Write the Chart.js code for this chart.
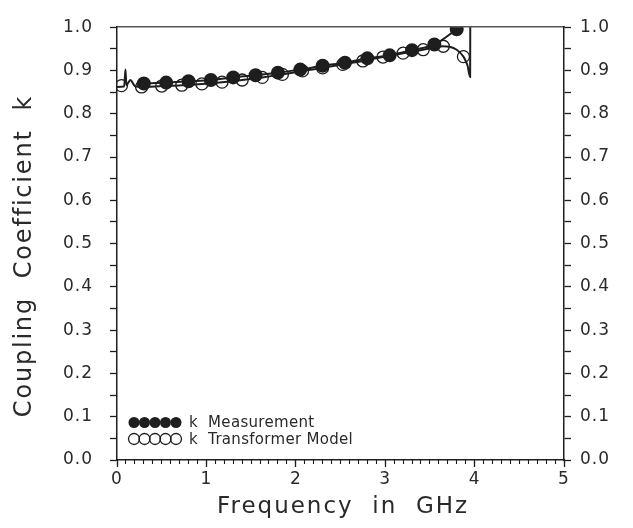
<!DOCTYPE html>
<html>
<head>
<meta charset="utf-8">
<script src="https://cdn.jsdelivr.net/npm/chart.js@4.4.1/dist/chart.umd.min.js"></script>
<style>
html,body{margin:0;padding:0;background:#fff;}
#wrap{width:633px;height:528px;position:relative;}
</style>
</head>
<body>
<div id="wrap"><canvas id="c" width="633" height="528"></canvas></div>
<script>
// ---- data ----
const measFreq = [0.3, 0.55, 0.8, 1.05, 1.3, 1.55, 1.8, 2.05, 2.3, 2.55, 2.8, 3.05, 3.3, 3.55, 3.8];
const measK    = [0.870, 0.872, 0.875, 0.878, 0.884, 0.889, 0.895, 0.902, 0.911, 0.918, 0.928, 0.935, 0.947, 0.960, 0.995];

const modelFreq = [0.05, 0.275, 0.5, 0.725, 0.95, 1.175, 1.4, 1.625, 1.85, 2.075, 2.3, 2.525, 2.75, 2.975, 3.2, 3.425, 3.65, 3.875];
const modelK    = [0.865, 0.862, 0.864, 0.866, 0.869, 0.873, 0.878, 0.884, 0.891, 0.899, 0.906, 0.914, 0.922, 0.931, 0.940, 0.948, 0.956, 0.932];

const curveFreq = [0.0, 0.08, 0.095, 0.105, 0.15, 0.2, 0.275, 0.5, 0.725, 0.95, 1.175, 1.4, 1.625, 1.85, 2.075, 2.3, 2.525, 2.75, 2.975, 3.2, 3.425, 3.55, 3.65, 3.72, 3.8, 3.875, 3.92, 3.95, 3.952];
const curveK    = [0.862, 0.863, 0.902, 0.866, 0.878, 0.864, 0.862, 0.864, 0.866, 0.869, 0.873, 0.878, 0.884, 0.891, 0.899, 0.906, 0.914, 0.922, 0.931, 0.940, 0.948, 0.953, 0.956, 0.955, 0.948, 0.932, 0.912, 0.885, 1.06];

const xTicks = [0, 1, 2, 3, 4, 5];
const yTickLabels = ['0.0','0.1','0.2','0.3','0.4','0.5','0.6','0.7','0.8','0.9','1.0'];

const xTitle = 'Frequency  in  GHz';
const yTitle = 'Coupling  Coefficient  k';
const legendLabels = ['k  Measurement', 'k  Transformer Model'];

// ---- chart ----
const INK = '#1e1e1e';
const TXT = '#2a2a2a';
const tickFont = {family: "'DejaVu Sans', sans-serif", size: 17, weight: 'normal'};

function pts(xs, ys){ return xs.map((x,i)=>({x:x, y:ys[i]})); }

function yLabel(v){
  const r = Math.round(v*100);
  if (r % 10 !== 0) return '';
  return yTickLabels[r/10];
}

const spacingPlugin = {
  id: 'spacing',
  beforeDraw(chart){ chart.ctx.letterSpacing = '1px'; }
};

const decorPlugin = {
  id: 'decor',
  afterDraw(chart){
    const ctx = chart.ctx, ca = chart.chartArea;
    ctx.save();
    ctx.fillStyle = TXT;
    // axis titles
    ctx.font = "normal 23px 'DejaVu Sans', sans-serif";
    ctx.letterSpacing = '2px';
    ctx.textAlign = 'center';
    ctx.textBaseline = 'middle';
    ctx.fillText(xTitle, 343, 507);
    ctx.save();
    ctx.translate(25, 257);
    ctx.rotate(-Math.PI/2);
    ctx.font = "normal 24px 'DejaVu Sans', sans-serif";
    ctx.letterSpacing = '1.8px';
    ctx.fillText(yTitle, 1, 0);
    ctx.restore();
    // legend
    const rows = [ca.bottom - 37.5, ca.bottom - 21];
    for (let r = 0; r < 2; r++) {
      const y = rows[r];
      for (let i = 0; i < 5; i++) {
        const cx = ca.left + 17 + i*10.5;
        ctx.beginPath();
        ctx.arc(cx, y, 5.5, 0, Math.PI*2);
        if (r === 0) { ctx.fillStyle = INK; ctx.fill(); }
        else { ctx.strokeStyle = INK; ctx.lineWidth = 1.3; ctx.stroke(); }
      }
      ctx.fillStyle = TXT;
      ctx.font = "normal 15px 'DejaVu Sans', sans-serif";
      ctx.letterSpacing = '0.3px';
      ctx.textAlign = 'left';
      ctx.fillText(legendLabels[r], ca.left + 72, y + 1);
    }
    ctx.restore();
  }
};

const commonY = {
  type: 'linear', min: 0, max: 1,
  ticks: {stepSize: 0.05, autoSkip: false, maxTicksLimit: 100, callback: yLabel, font: tickFont, color: TXT},
  grid: {drawOnChartArea: false, tickLength: 7, tickColor: INK, tickWidth: 1.3},
  border: {color: INK, width: 1.5}
};

new Chart(document.getElementById('c'), {
  type: 'scatter',
  data: {
    datasets: [
      {label: 'k Transformer Model curve', data: pts(curveFreq, curveK), showLine: true, borderColor: INK, borderWidth: 2, pointRadius: 0, tension: 0.25, cubicInterpolationMode: 'monotone', xAxisID: 'x', yAxisID: 'y'},
      {label: 'k Transformer Model', data: pts(modelFreq, modelK), showLine: false, pointRadius: 6, pointBorderWidth: 1.3, pointBackgroundColor: 'rgba(255,255,255,0)', pointBorderColor: INK, xAxisID: 'x', yAxisID: 'y'},
      {label: 'k Measurement', data: pts(measFreq, measK), showLine: true, borderColor: INK, borderWidth: 2, tension: 0.2, cubicInterpolationMode: 'monotone', pointRadius: 6, pointBackgroundColor: INK, pointBorderColor: INK, xAxisID: 'x', yAxisID: 'y'}
    ]
  },
  options: {
    responsive: false,
    animation: false,
    events: [],
    layout: {padding: {top: 11, left: 0, right: 0, bottom: 0}},
    plugins: {legend: {display: false}, tooltip: {enabled: false}},
    scales: {
      x: {
        type: 'linear', position: 'bottom', min: 0, max: 5, weight: 1,
        ticks: {stepSize: 1, autoSkip: false, font: tickFont, color: TXT, padding: 2, maxRotation: 0},
        afterBuildTicks: s => { s.ticks = xTicks.map(v => ({value: v})); },
        grid: {drawOnChartArea: false, tickLength: 7, tickColor: INK, tickWidth: 1.3},
        border: {color: INK, width: 1.5},
        afterFit: s => { s.height = 68; }
      },
      xMinor: {
        type: 'linear', position: 'bottom', min: 0, max: 5, weight: 0,
        ticks: {stepSize: 0.1, autoSkip: false, maxTicksLimit: 100, callback: () => '', padding: 0},
        grid: {drawOnChartArea: false, tickLength: 4, tickColor: INK, tickWidth: 1.1},
        border: {display: false},
        afterFit: s => { s.height = 0; }
      },
      xTop: {
        type: 'linear', position: 'top', min: 0, max: 5,
        ticks: {display: false},
        grid: {display: false, drawTicks: false},
        border: {display: true, color: '#555', width: 1.5},
        afterFit: s => { s.height = 0; }
      },
      y: Object.assign({}, commonY, {position: 'left',
        ticks: Object.assign({}, commonY.ticks, {padding: 17}),
        afterFit: s => { s.width = 117; }}),
      y2: Object.assign({}, commonY, {position: 'right',
        ticks: Object.assign({}, commonY.ticks, {padding: 9}),
        afterFit: s => { s.width = 69; }})
    }
  },
  plugins: [spacingPlugin, decorPlugin]
});
</script>
</body>
</html>
